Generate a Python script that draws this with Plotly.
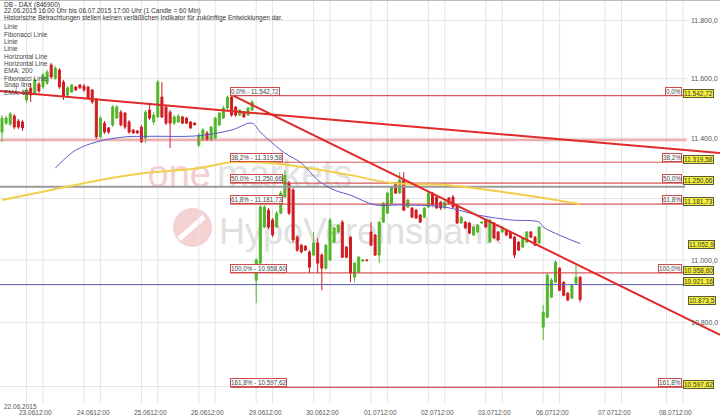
import math
import plotly.graph_objects as go

# ---------------- data ----------------
# hourly candles, slot index 0 = 22.06.2015 16:00, 14 slots per trading day (08:00-21:00)
open_ = [11420, 11450, 11447, 11474, 11457, 11454, 11528, 11568, 11552, 11582,
         11572, 11585, 11647, 11602, 11630, 11589, 11545, 11555, 11572, 11579,
         11575, 11572, 11562, 11528, 11404, 11450, 11434, 11444, 11467, 11487,
         11484, 11454, 11427, 11424, 11437, 11400, 11494, 11454, 11471, 11538,
         11504, 11487, 11450, 11454, 11471, 11467, 11454, 11450, 11377, 11394,
         11417, 11394, 11400, 11444, 11467, 11501, 11538, 11504, 11477, 11487,
         11477, 11494, 10935, 10990, 11107, 11162, 11130, 11107, 11152, 11205,
         11251, 11228, 11074, 11048, 11045, 11026, 11016, 11055, 11016, 10974,
         11000, 11058, 11091, 11123, 11042, 11074, 10945, 10961, 10997, 11000,
         11091, 11081, 11016, 11123, 11152, 11185, 11251, 11218, 11261, 11172,
         11169, 11162, 11146, 11139, 11172, 11218, 11205, 11188, 11169, 11202,
         11205, 11179, 11120, 11123, 11120, 11081, 11091, 11120, 11130, 11058,
         11120, 11091, 11091, 11097, 11091, 11074, 11058, 11042, 11058, 11091,
         11074, 11055, 10786, 10817, 10881, 10929, 10974, 10929, 10894, 10878,
         10926, 10945]
high = [11477, 11474, 11487, 11481, 11464, 11461, 11569, 11585, 11602, 11589,
        11619, 11630, 11654, 11643, 11636, 11596, 11575, 11582, 11575, 11582,
        11582, 11575, 11565, 11535, 11474, 11457, 11437, 11511, 11511, 11494,
        11487, 11461, 11430, 11427, 11444, 11494, 11518, 11487, 11596, 11589,
        11511, 11494, 11477, 11481, 11474, 11471, 11457, 11454, 11417, 11434,
        11424, 11440, 11471, 11487, 11508, 11542.72, 11541, 11508, 11498, 11491,
        11504, 11528, 11006, 11179, 11179, 11169, 11136, 11159, 11225, 11294,
        11258, 11235, 11081, 11052, 11048, 11032, 11091, 11071, 11022, 11052,
        11136, 11107, 11117, 11130, 11045, 11078, 10993, 11013, 11003, 11003,
        11123, 11084, 11126, 11188, 11221, 11241, 11254, 11287, 11287, 11198,
        11172, 11166, 11149, 11172, 11221, 11221, 11208, 11192, 11192, 11205,
        11212, 11182, 11143, 11126, 11123, 11110, 11117, 11126, 11133, 11133,
        11123, 11094, 11110, 11100, 11094, 11078, 11061, 11074, 11094, 11094,
        11078, 11110, 10856, 10958, 10942, 11000, 10977, 10932, 10897, 10923,
        10984, 10948]
low = [11387, 11444, 11440, 11430, 11430, 11424, 11518, 11521, 11545, 11552,
       11565, 11579, 11599, 11596, 11565, 11528, 11541, 11552, 11558, 11565,
       11555, 11531, 11514, 11397, 11400, 11414, 11414, 11437, 11464, 11440,
       11430, 11414, 11414, 11414, 11384, 11384, 11461, 11444, 11467, 11467,
       11444, 11367, 11444, 11450, 11447, 11447, 11430, 11444, 11370, 11390,
       11390, 11390, 11397, 11440, 11464, 11494, 11471, 11471, 11474, 11467,
       11474, 11491, 10862, 10984, 11104, 11100, 11074, 11104, 11149, 11202,
       11146, 11058, 11026, 11022, 11029, 10958, 11013, 10958, 10903, 10968,
       10997, 11055, 11087, 11006, 11006, 10929, 10929, 10958, 10993, 10997,
       11045, 11013, 10990, 11120, 11149, 11182, 11215, 11215, 11159, 11169,
       11136, 11133, 11120, 11136, 11169, 11175, 11166, 11162, 11166, 11179,
       11169, 11117, 11117, 11100, 11084, 11078, 11087, 11117, 11104, 11055,
       11068, 11061, 11087, 11078, 11068, 11006, 11029, 11039, 11055, 11071,
       11045, 11052, 10745, 10814, 10878, 10926, 10900, 10884, 10868, 10875,
       10923, 10865]
close = [11467, 11467, 11481, 11437, 11437, 11434, 11562, 11545, 11596, 11558,
         11613, 11623, 11606, 11636, 11572, 11541, 11569, 11579, 11562, 11569,
         11562, 11535, 11521, 11404, 11467, 11420, 11420, 11504, 11504, 11444,
         11437, 11420, 11417, 11417, 11387, 11487, 11467, 11477, 11589, 11471,
         11450, 11450, 11471, 11474, 11450, 11450, 11434, 11444, 11410, 11427,
         11394, 11437, 11467, 11484, 11501, 11538, 11477, 11477, 11494, 11471,
         11501, 11521, 11000, 11172, 11172, 11107, 11081, 11152, 11218, 11277,
         11152, 11065, 11032, 11026, 11032, 10977, 11055, 10990, 10974, 11048,
         11130, 11104, 11113, 11009, 11009, 10958, 10990, 11009, 11000, 10998,
         11048, 11016, 11123, 11185, 11218, 11238, 11218, 11261, 11162, 11195,
         11139, 11136, 11123, 11169, 11218, 11179, 11169, 11169, 11188, 11185,
         11172, 11120, 11139, 11104, 11087, 11107, 11113, 11123, 11107, 11130,
         11071, 11065, 11107, 11081, 11071, 11016, 11032, 11071, 11091, 11074,
         11048, 11107, 10833, 10951, 10935, 10993, 10903, 10887, 10872, 10919,
         10945, 10873.5]
slots = list(range(len(open_)))

# indicators (slot index, value)
ema50_slot = [13, 15, 18, 23, 30, 36, 48, 56, 61, 63, 69, 73, 77, 81, 85, 91, 97, 108, 116, 124, 131, 132, 141]
ema50_val = [11300, 11327, 11360, 11387, 11404, 11406, 11408, 11427, 11450, 11420, 11350, 11317, 11261,
             11228, 11211, 11179, 11179, 11172, 11146, 11130, 11123, 11107, 11052.9]
ema200_slot = [0, 12, 24, 35, 48, 56, 65, 73, 85, 95, 109, 124, 132, 141]
ema200_val = [11195, 11228, 11261, 11284, 11300, 11320, 11317, 11304, 11277, 11251, 11244, 11218, 11202, 11182]

# drawn lines
trend1_slot = [-0.49, 175.12]
trend1_val = [11558, 11350]
trend2_slot = [56, 175.12]
trend2_val = [11545, 10762]
fib_pct = [0.0, 38.2, 50.0, 61.8, 100.0, 161.8]
fib_val = [11542.72, 11319.58, 11250.66, 11181.73, 10958.60, 10597.62]
hline_pink = 11393.6
hline_gray = 11239.0
hline_blue = 10921.16
last_price = 10873.5
ema50_last = 11052.9

# axes
ytick_vals = [10600, 10800, 11000, 11200, 11400, 11600, 11800]
ylabel_vals = [10800, 11000, 11400, 11600, 11800]   # 10.600 / 11.200 are covered by price boxes
day_labels = ["23.06", "24.06", "25.06", "26.06", "29.06", "30.06",
              "01.07", "02.07", "03.07", "06.07", "07.07", "08.07"]
day_start_slot = [6, 20, 34, 48, 62, 76, 90, 104, 118, 132, 147.1, 162.1]
day_noon_slot = [10, 24, 38, 52, 66, 80, 94, 108, 122, 136, 151.1, 166.1]

# ---------------- layout helpers ----------------
FONT = "Liberation Sans, Arial, sans-serif"
W, H = 720, 419
MB = 16
PH = H - MB
X_RANGE = [-0.488, 175.12]
Y_RANGE = [math.log10(10549.0), math.log10(11870.5)]
GREEN = "#52b52a"
RED = "#d01c22"


def de(v, nd):
    s = f"{v:,.{nd}f}"
    return s.replace(",", "#").replace(".", ",").replace("#", ".")


def xp(px):
    return px / W


def yp(py):
    return (PH - py) / PH


fig = go.Figure()

fig.add_trace(go.Candlestick(
    x=slots, open=open_, high=high, low=low, close=close,
    increasing=dict(line=dict(color=GREEN, width=1), fillcolor=GREEN),
    decreasing=dict(line=dict(color=RED, width=1), fillcolor=RED),
    whiskerwidth=0, hoverinfo="skip", showlegend=False))

FIB_X0, FIB_X1 = 55.7, 166.1


def hline(v, x0, x1, color, width):
    fig.add_trace(go.Scatter(x=[x0, x1], y=[v, v], mode="lines",
                             line=dict(color=color, width=width),
                             hoverinfo="skip", showlegend=False))


hline(hline_pink, X_RANGE[0], 167.0, "rgba(225,110,110,0.55)", 2.5)
hline(hline_gray, X_RANGE[0], 166.6, "#9a9a9a", 2)
hline(hline_blue, X_RANGE[0], 166.1, "#5a5ab8", 1)
for v in fib_val:
    hline(v, FIB_X0, FIB_X1, "rgba(205,60,60,0.85)", 1.2)

fig.add_trace(go.Scatter(x=ema200_slot, y=ema200_val, mode="lines", line=dict(color="#f2cf4a", width=2, shape="spline"),
                         hoverinfo="skip", showlegend=False))
fig.add_trace(go.Scatter(x=ema50_slot, y=ema50_val, mode="lines", line=dict(color="#5b5bd0", width=1, shape="spline"),
                         hoverinfo="skip", showlegend=False))
fig.add_trace(go.Scatter(x=trend1_slot, y=trend1_val, mode="lines", line=dict(color="#e02a2a", width=2),
                         hoverinfo="skip", showlegend=False))
fig.add_trace(go.Scatter(x=trend2_slot, y=trend2_val, mode="lines", line=dict(color="#e02a2a", width=2),
                         hoverinfo="skip", showlegend=False))

shapes = []
# watermark
shapes.append(dict(type="circle", xref="paper", yref="paper", x0=xp(173), x1=xp(212), y0=yp(247), y1=yp(208),
                   fillcolor="#f5d2d2", line=dict(width=0), layer="below"))
shapes.append(dict(type="line", xref="paper", yref="paper", x0=xp(179), x1=xp(204), y0=yp(239), y1=yp(217),
                   line=dict(color="white", width=5), layer="below"))
shapes.append(dict(type="rect", xref="paper", yref="paper", x0=xp(120), x1=xp(214), y0=yp(192), y1=yp(148),
                   line=dict(width=0), layer="below",
                   label=dict(text="one", textposition="middle right", padding=0,
                              font=dict(size=38, color="#f4cfcf", family=FONT))))
shapes.append(dict(type="rect", xref="paper", yref="paper", x0=xp(214), x1=xp(420), y0=yp(192), y1=yp(148),
                   line=dict(width=0), layer="below",
                   label=dict(text="markets", textposition="middle left", padding=0,
                              font=dict(size=38, color="#e2e2e2", family=FONT))))
shapes.append(dict(type="rect", xref="paper", yref="paper", x0=xp(216), x1=xp(620), y0=yp(256), y1=yp(200),
                   line=dict(width=0), layer="below",
                   label=dict(text="HypoVereinsbank", textposition="middle left", padding=0,
                              font=dict(size=36, color="#e0e0e0", family=FONT))))
# grid
for v in ytick_vals:
    shapes.append(dict(type="line", xref="x", yref="y", x0=X_RANGE[0], x1=167.3, y0=v, y1=v,
                       line=dict(color="#e4e4e4", width=1), layer="below"))
for s in day_start_slot + day_noon_slot:
    shapes.append(dict(type="line", xref="x", yref="paper", x0=s, x1=s, y0=0, y1=1,
                       line=dict(color="#e4e4e4", width=1), layer="below"))
shapes.append(dict(type="line", xref="paper", yref="paper", x0=0, x1=1, y0=1, y1=1,
                   line=dict(color="#bdbdbd", width=2), layer="above"))

ann = []
# y axis labels
for v in ylabel_vals:
    ann.append(dict(xref="paper", yref="y", x=1.0, y=math.log10(v), xanchor="right", yanchor="middle",
                    text=de(v, 1), showarrow=False, font=dict(size=7, color="#555", family=FONT)))
# x axis labels
for d, s in zip(day_labels, day_noon_slot):
    ann.append(dict(xref="x", yref="paper", x=s - 1.8, y=yp(412.5), xanchor="center", yanchor="middle",
                    text=d + "12:00", showarrow=False, font=dict(size=6.5, color="#555", family=FONT)))
ann.append(dict(xref="paper", yref="paper", x=xp(2), y=yp(406.5), xanchor="left", yanchor="middle",
                text="22.06.2015", showarrow=False, font=dict(size=6.5, color="#555", family=FONT)))
# header text
header = ["DB - DAX (846900)",
          "22.06.2015 16:00 Uhr bis 06.07.2015 17:00 Uhr (1 Candle = 60 Min)",
          "Historische Betrachtungen stellen keinen verläßlichen Indikator für zukünftige Entwicklungen dar."]
for t, py in zip(header, [5, 11, 17.5]):
    ann.append(dict(xref="paper", yref="paper", x=xp(2), y=yp(py), xanchor="left", yanchor="middle",
                    text=t, showarrow=False, font=dict(size=6.5, color="#333", family=FONT)))
legend_items = ["Linie", "Fibonacci Linie", "Linie", "Linie", "Horizontal Line", "Horizontal Line",
                "EMA: 200", "Fibonacci Linie", "Snap line", "EMA: 50"]
for k, t in enumerate(legend_items):
    ann.append(dict(xref="paper", yref="paper", x=xp(2), y=yp(27 + 7.3 * k), xanchor="left", yanchor="middle",
                    text=t, showarrow=False, font=dict(size=6.5, color="#444", family=FONT)))
# fibonacci labels
for pct, v in zip(fib_pct, fib_val):
    ann.append(dict(xref="x", yref="y", x=FIB_X0, y=math.log10(v), xanchor="left", yanchor="bottom",
                    text=f"{de(pct, 1)}% - {de(v, 2)}", showarrow=False, bgcolor="white",
                    bordercolor="#cf4a4a", borderwidth=1, borderpad=0,
                    font=dict(size=6.3, color="#444", family=FONT)))
    ann.append(dict(xref="paper", yref="y", x=xp(682), y=math.log10(v), xanchor="right", yanchor="bottom",
                    text=f"{de(pct, 1)}%", showarrow=False, bgcolor="white",
                    bordercolor="#cf4a4a", borderwidth=1, borderpad=0,
                    font=dict(size=6.3, color="#444", family=FONT)))
    ann.append(dict(xref="paper", yref="y", x=xp(683), y=math.log10(v), xanchor="left", yanchor="bottom",
                    yshift=-2, text=de(v, 2), showarrow=False, bgcolor="#f3f03c",
                    bordercolor="#5a5a3a", borderwidth=1, borderpad=0,
                    font=dict(size=6.5, color="#333", family=FONT)))
for v, txt, x0 in [(hline_blue, de(hline_blue, 2), 683), (ema50_last, de(ema50_last, 1), 688),
                   (last_price, de(last_price, 1), 688)]:
    ann.append(dict(xref="paper", yref="y", x=xp(x0), y=math.log10(v), xanchor="left",
                    yanchor="bottom" if x0 == 683 else "middle", yshift=-1,
                    text=txt, showarrow=False, bgcolor="#f3f03c",
                    bordercolor="#5a5a3a", borderwidth=1, borderpad=0,
                    font=dict(size=6.5, color="#333", family=FONT)))

fig.update_layout(
    width=W, height=H, margin=dict(l=0, r=0, t=0, b=MB),
    paper_bgcolor="white", plot_bgcolor="white", showlegend=False,
    shapes=shapes, annotations=ann,
    xaxis=dict(range=X_RANGE, showgrid=False, zeroline=False, showline=False, ticks="",
               showticklabels=False, rangeslider=dict(visible=False), fixedrange=True),
    yaxis=dict(type="log", range=Y_RANGE, showgrid=False, zeroline=False, showline=False,
               showticklabels=False, ticks="", fixedrange=True),
)

fig.write_html("out.html", config={"displayModeBar": False, "staticPlot": True},
               post_script="document.body.style.margin='0';document.body.style.overflow='hidden';")
